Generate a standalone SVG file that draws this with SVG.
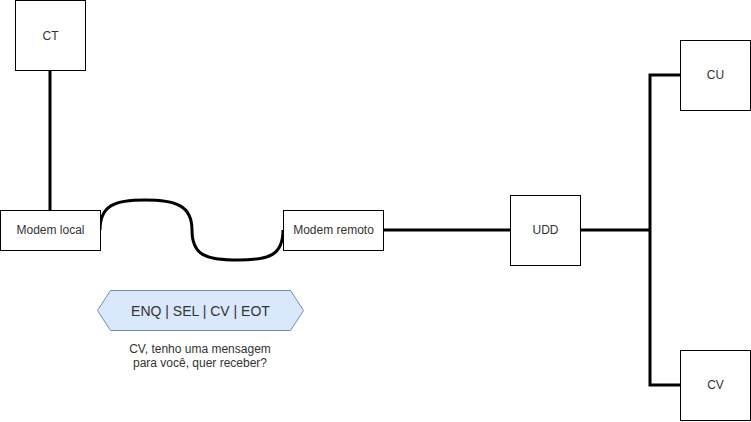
<svg xmlns="http://www.w3.org/2000/svg" width="751" height="422" viewBox="0 0 751 422">
<style>
.box{fill:#ffffff;stroke:#000000;stroke-width:1}
.lbl{font-family:"Liberation Sans",Arial,sans-serif;font-size:12px;fill:#333333;text-anchor:middle}
.wire{fill:none;stroke:#000000;stroke-width:3}
</style>
<rect width="751" height="422" fill="#ffffff"/>
<g id="connectors">
<path class="wire" d="M50,70 L50,210"/>
<path class="wire" d="M100,230 C100,205 115,200 145,200 C175,200 192,205 192,230 C192,255 205,260 238,260 C270,260 283,255 283,230"/>
<path class="wire" d="M383,230 L510,230"/>
<path class="wire" d="M580,230 L650,230"/>
<path class="wire" d="M680,75 L650,75 L650,385 L680,385"/>
</g>
<g id="ct"><rect class="box" x="15.5" y="0.5" width="70" height="70"/><text class="lbl" x="50.5" y="40">CT</text></g>
<g id="modem-local"><rect class="box" x="0.5" y="210.5" width="100" height="40"/><text class="lbl" x="50.5" y="234">Modem local</text></g>
<g id="modem-remoto"><rect class="box" x="283.5" y="210.5" width="100" height="40"/><text class="lbl" x="333.5" y="234">Modem remoto</text></g>
<g id="udd"><rect class="box" x="510.5" y="195.5" width="70" height="70"/><text class="lbl" x="545.5" y="234">UDD</text></g>
<g id="cu"><rect class="box" x="680.5" y="40.5" width="70" height="70"/><text class="lbl" x="715.5" y="79">CU</text></g>
<g id="cv"><rect class="box" x="680.5" y="350.5" width="70" height="70"/><text class="lbl" x="715.5" y="389">CV</text></g>
<g id="message">
<polygon points="97.5,310.5 110.5,290.5 290.5,290.5 303.5,310.5 290.5,330.5 110.5,330.5" fill="#dae8fc" stroke="#6c8ebf" stroke-width="1"/>
<text class="lbl" x="200.5" y="315.5" style="font-size:14px">ENQ | SEL | CV | EOT</text>
</g>
<g id="caption">
<text class="lbl" x="200" y="353">CV, tenho uma mensagem</text>
<text class="lbl" x="200" y="367">para você, quer receber?</text>
</g>
</svg>
